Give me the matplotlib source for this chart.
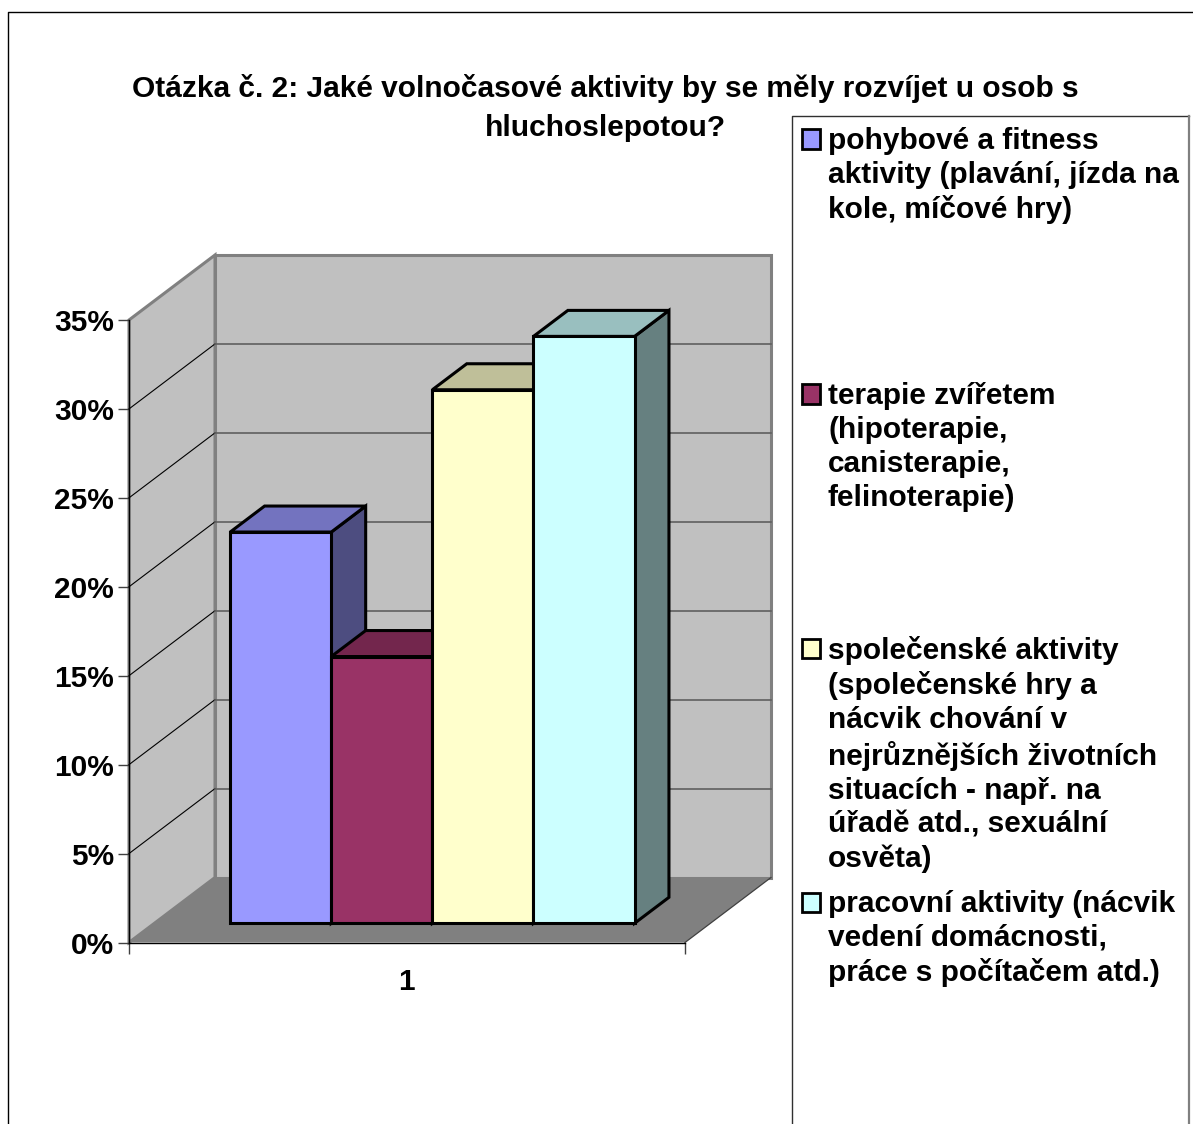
import matplotlib
matplotlib.use("Agg")
import matplotlib.pyplot as plt
from matplotlib.patches import Polygon, Rectangle
from matplotlib.lines import Line2D
from matplotlib.colors import to_rgb

W, H = 1193, 1124

title_lines = [
    "Otázka č. 2: Jaké volnočasové aktivity by se měly rozvíjet u osob s",
    "hluchoslepotou?",
]
series_names = [
    "pohybové a fitness\naktivity (plavání, jízda na\nkole, míčové hry)",
    "terapie zvířetem\n(hipoterapie,\ncanisterapie,\nfelinoterapie)",
    "společenské aktivity\n(společenské hry a\nnácvik chování v\nnejrůznějších životních\nsituacích - např. na\núřadě atd., sexuální\nosvěta)",
    "pracovní aktivity (nácvik\nvedení domácnosti,\npráce s počítačem atd.)",
]
values = [22, 15, 30, 33]
colors = ["#9999FF", "#993366", "#FFFFCC", "#CCFFFF"]
y_ticks = [0, 5, 10, 15, 20, 25, 30, 35]
category = ["1"]

plt.rcParams["font.family"] = ["Liberation Sans", "DejaVu Sans"]
plt.rcParams["font.weight"] = "bold"
FS = 21.5

# 3D look: how far the back wall is shifted, in data units
DEPTH_X = 86 / 556
DEPTH_Y = 65 / (622.5 / 35)
BAR_WIDTH = 1 / 5.5
BAR_FRONT, BAR_BACK = 0.295, 0.695


def proj(x, v, d):
    return (x + d * DEPTH_X, v + d * DEPTH_Y)


def shade(color, f):
    return tuple(c * f for c in to_rgb(color))


def fx(px):
    return px / W


def fy(py):
    return 1 - py / H


fig = plt.figure(figsize=(W / 100, H / 100), dpi=100, facecolor="white")
ax = fig.add_axes([fx(129), fy(942.5), 556 / W, 622.5 / H])
ax.set_xlim(0.5, 1.5)
ax.set_ylim(0, 35)
ax.patch.set_visible(False)

x0, x1, top = 0.5, 1.5, y_ticks[-1]

# walls and floor
ax.add_patch(Polygon([proj(x0, 0, 1), proj(x1, 0, 1), proj(x1, top, 1), proj(x0, top, 1)],
                     fc="#C0C0C0", ec="#808080", lw=2.2, clip_on=False, zorder=1))
ax.add_patch(Polygon([proj(x0, 0, 0), proj(x0, 0, 1), proj(x0, top, 1), proj(x0, top, 0)],
                     fc="#C0C0C0", ec="#808080", lw=2.2, clip_on=False, zorder=1))
ax.add_patch(Polygon([proj(x0, 0, 0), proj(x1, 0, 0), proj(x1, 0, 1), proj(x0, 0, 1)],
                     fc="#808080", ec="none", clip_on=False, zorder=2))
ax.plot(*zip(proj(x1, 0, 0), proj(x1, 0, 1)), color="#404040", lw=0.9, clip_on=False, zorder=2)

# gridlines
for t in y_ticks[1:-1]:
    ax.plot(*zip(proj(x0, t, 0), proj(x0, t, 1)), color="black", lw=0.8, clip_on=False, zorder=3)
    ax.plot(*zip(proj(x0, t, 1), proj(x1, t, 1)), color="#5F5F5F", lw=1.2, clip_on=False, zorder=3)

# bars, left to right so each one covers the side of the previous
for i, (v, c) in enumerate(zip(values, colors)):
    left = 1 - 2 * BAR_WIDTH + i * BAR_WIDTH
    right = left + BAR_WIDTH
    z = 4 + i
    a, b = BAR_FRONT, BAR_BACK
    kw = dict(ec="black", lw=2.2, joinstyle="miter", clip_on=False, zorder=z)
    ax.add_patch(Polygon([proj(right, 0, a), proj(right, 0, b), proj(right, v, b), proj(right, v, a)],
                         fc=shade(c, 0.5), **kw))
    ax.add_patch(Polygon([proj(left, v, a), proj(right, v, a), proj(right, v, b), proj(left, v, b)],
                         fc=shade(c, 0.75), **kw))
    ax.add_patch(Polygon([proj(left, 0, a), proj(right, 0, a), proj(right, v, a), proj(left, v, a)],
                         fc=c, **kw))

# axes
for s in ["top", "right"]:
    ax.spines[s].set_visible(False)
ax.spines["left"].set_linewidth(1.0)
ax.spines["bottom"].set_linewidth(1.0)
ax.spines["left"].set_zorder(3)
ax.spines["bottom"].set_zorder(3)
ax.set_yticks(y_ticks)
ax.set_yticklabels([f"{t}%" for t in y_ticks])
ax.tick_params(axis="y", length=8, width=1.0, color="#404040", labelsize=FS, pad=3)
ax.set_xticks([x0, x1], minor=True)
ax.tick_params(axis="x", which="minor", length=8, width=1.0, color="#404040")
ax.set_xticks([1 - 1 / 556])
ax.set_xticklabels(category)
ax.tick_params(axis="x", which="major", length=0, labelsize=FS, pad=18)

# title, two lines placed one by one
for line, y in zip(title_lines, [88.5, 128.5]):
    fig.text(fx(605), fy(y), line, ha="center", va="center", fontsize=FS,
             fontweight="bold", color="black")

# outer frame, cut off by the image bottom
fig.add_artist(Line2D([fx(8), fx(8), fx(W)], [0, fy(11.5), fy(11.5)], color="black", lw=1.0))

# legend box, also running off the bottom
fig.add_artist(Line2D([fx(792), fx(792), fx(1189)], [0, fy(115.5), fy(115.5)],
                      color="#303030", lw=1.0))
fig.add_artist(Line2D([fx(1189), fx(1189)], [0, fy(115.5)], color="#808080", lw=1.6))
legend_y = [139, 394, 648, 902]
for name, c, y in zip(series_names, colors, legend_y):
    fig.add_artist(Rectangle((fx(802), fy(y + 9.5)), 18 / W, 19 / H, fc=c, ec="black", lw=2.0,
                             transform=fig.transFigure))
    fig.text(fx(828), fy(y - 12), name, ha="left", va="top", fontsize=FS, fontweight="bold",
             linespacing=1.27, color="black")

fig.savefig("out.png", dpi=100)
